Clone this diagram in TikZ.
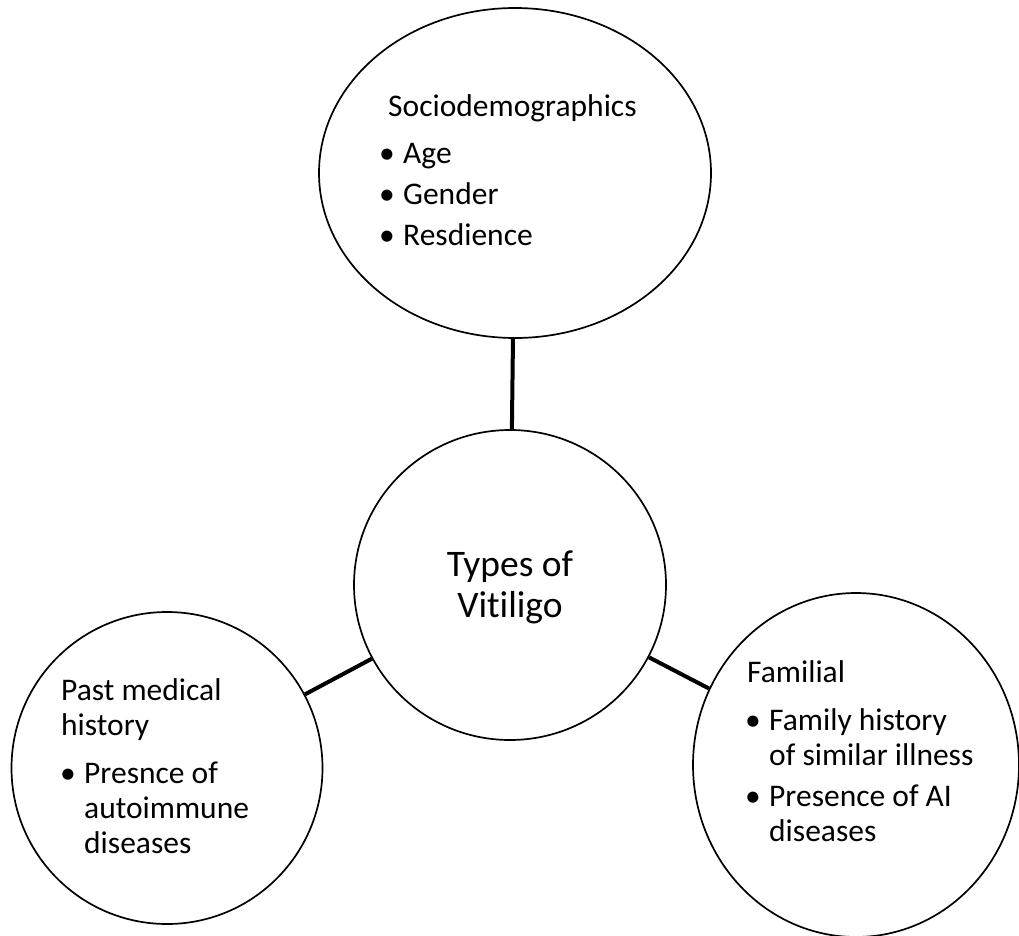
\documentclass[tikz,border=0pt]{standalone}
\usepackage{fontspec}
\setmainfont{Carlito}[Ligatures=NoCommon]
\usetikzlibrary{shapes.geometric}
\tikzset{
  bubble/.style={ellipse, draw=black, line width=1.7pt, fill=white, inner sep=0pt},
  conn/.style={draw=black, line width=4pt},
  txt/.style={anchor=base west, inner sep=0pt, font=\fontsize{31.5}{35}\selectfont},
  bigtxt/.style={align=center, inner sep=0pt, font=\fontsize{37.5}{41}\selectfont},
}
\newcommand{\bitem}[1]{\makebox[24pt][l]{•}#1}
\newcommand{\bcont}[1]{\hspace*{24pt}#1}
\begin{document}
\begin{tikzpicture}[x=1pt,y=-1pt]
\clip (0,0) rectangle (1019,936);
\fill[white] (0,0) rectangle (1019,936);
% bubbles
\node[bubble, minimum width=392pt, minimum height=330pt] (socio) at (515,173) {};
\node[bubble, minimum width=312pt, minimum height=310pt] (types) at (510,585) {};
\node[bubble, minimum width=311pt, minimum height=312pt] (past) at (167,768) {};
\node[bubble, minimum width=326pt, minimum height=344pt] (fam) at (856,765) {};
% connectors
\draw[conn] (socio) -- (types);
\draw[conn] (types) -- (past);
\draw[conn] (types) -- (fam);
% texts
\node[bigtxt] (typestxt) at (510,587) {Types of\\Vitiligo};
\node[txt] (sociotxt) at (379,117) {\begin{tabular}[t]{@{}l@{}}\hspace*{9pt}Sociodemographics\\[12pt]
\bitem{Age}\\[6pt]
\bitem{Gender}\\[6pt]
\bitem{Resdience}\end{tabular}};
\node[txt] (pasttxt) at (60,700) {\begin{tabular}[t]{@{}l@{}}\hspace*{1pt}Past medical\\
\hspace*{1pt}history\\[13pt]
\bitem{Presnce of}\\
\bcont{autoimmune}\\
\bcont{diseases}\end{tabular}};
\node[txt] (famtxt) at (745,682) {\begin{tabular}[t]{@{}l@{}}\hspace*{2pt}Familial\\[13pt]
\bitem{Family history}\\
\bcont{of similar illness}\\[6pt]
\bitem{Presence of AI}\\
\bcont{diseases}\end{tabular}};
\end{tikzpicture}
\end{document}
